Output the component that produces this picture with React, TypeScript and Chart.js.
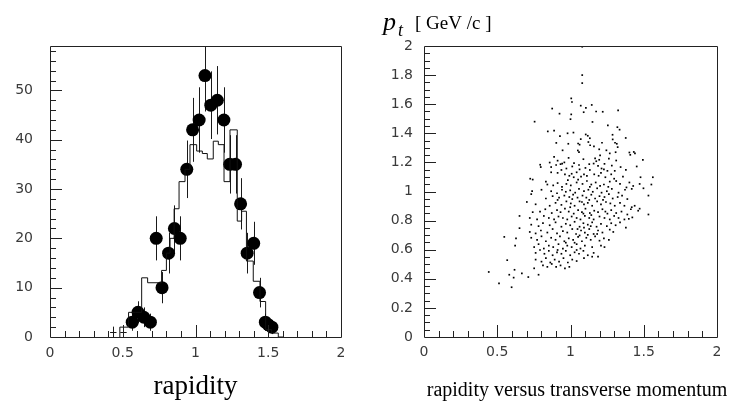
import React, { useEffect, useRef } from 'react';
import { Chart, registerables } from 'chart.js';

Chart.register(...registerables);

// ---------- left panel: rapidity histogram ----------
const pointX = [0.565, 0.605, 0.645, 0.69, 0.73, 0.77, 0.815, 0.855, 0.895, 0.94, 0.98, 1.025, 1.065, 1.105, 1.15, 1.195, 1.235, 1.275, 1.31, 1.355, 1.4, 1.44, 1.48, 1.5, 1.525];
const pointY = [3, 5, 4, 3, 20, 10, 17, 22, 20, 34, 42, 44, 53, 47, 48, 44, 35, 35, 27, 17, 19, 9, 3, 2.5, 2];
const pointErr = [1.73, 2.24, 2, 1.73, 4.47, 3.16, 4.12, 4.69, 4.47, 5.83, 6.48, 6.63, 7.28, 6.86, 6.93, 6.63, 5.92, 5.92, 5.2, 4.12, 4.36, 3, 1.73, 1.58, 1.41];

const crossX = [0.435, 0.505];
const crossY = [1, 1];
const crossErr = [1.1, 1.1];
const crossHalfWidth = [0.022, 0.022];

const histEdges = [0.48, 0.54, 0.59, 0.63, 0.671, 0.767, 0.8, 0.825, 0.853, 0.887, 0.928, 0.962, 1.008, 1.047, 1.081, 1.122, 1.157, 1.196, 1.237, 1.287, 1.317, 1.35, 1.397, 1.443, 1.482, 1.523, 1.569, 1.604];
const histValues = [1, 2, 5, 5, 12, 11, 13.5, 17, 20, 26, 31.5, 34, 39, 37.7, 37.2, 36.1, 39.7, 39, 31.5, 42, 23.5, 25.5, 15.4, 11.3, 7.2, 1.5, 0.8];

const leftXTicks = [0, 0.5, 1, 1.5, 2];
const leftYTicks = [0, 10, 20, 30, 40, 50];

// ---------- right panel: rapidity vs pt ----------
const rightXTicks = [0, 0.5, 1, 1.5, 2];
const rightYTicks = [0, 0.2, 0.4, 0.6, 0.8, 1, 1.2, 1.4, 1.6, 1.8, 2];
const rightTitle = 'rapidity versus transverse momentum';

const scatterPoints: [number, number][] = [
  [1.08,1.995],[1.08,1.80],[1.08,1.745],[1.005,1.64],[1.01,1.615],[0.875,1.57],[1.07,1.59],[1.105,1.575],[1.145,1.595],[1.175,1.55],[1.22,1.548],[1.325,1.558],[0.925,1.535],[1.005,1.53],[1.09,1.545],[1.0,1.497],[1.15,1.478],[0.755,1.48],[1.255,1.455],[1.32,1.442],[1.335,1.425],[0.845,1.413],[0.888,1.418],[1.02,1.405],[0.928,1.381],[1.104,1.392],[1.118,1.383],[1.287,1.39],[1.132,1.366],[1.377,1.368],[0.903,1.334],[0.985,1.328],[1.052,1.33],[1.062,1.322],[1.122,1.34],[1.134,1.318],[1.288,1.358],[1.304,1.335],[1.316,1.328],[1.322,1.305],[0.946,1.283],[1.05,1.282],[1.058,1.27],[1.202,1.248],[1.245,1.283],[1.268,1.262],[1.308,1.27],[1.402,1.268],[1.432,1.272],[1.408,1.252],[1.44,1.262],[1.196,1.29],[1.16,1.31],[1.215,1.335],[1.07,1.36],[0.98,1.40],
  [0.888,1.238],[0.987,1.231],[1.088,1.222],[1.168,1.228],[1.176,1.208],[1.196,1.218],[1.262,1.226],[1.312,1.213],[1.494,1.218],[0.858,1.199],[0.912,1.212],[0.932,1.188],[0.958,1.2],[0.793,1.184],[0.797,1.168],[0.868,1.168],[0.902,1.182],[0.943,1.192],[0.972,1.158],[1.012,1.172],[1.058,1.182],[1.128,1.188],[1.188,1.176],[1.212,1.158],[1.232,1.19],[1.282,1.178],[1.342,1.168],[1.378,1.148],[1.452,1.172],[1.132,1.148],[1.208,1.128],[1.252,1.142],[1.278,1.118],[1.092,1.118],[1.042,1.132],[0.992,1.108],[0.938,1.148],[0.912,1.128],[0.725,1.088],[0.742,1.082],[0.832,1.068],[1.478,1.098],[1.562,1.098],[1.102,1.162],[1.158,1.192],[1.228,1.152],[1.302,1.142],[1.062,1.152],[1.024,1.195],[0.868,1.132],
  [0.962,1.118],[1.008,1.122],[1.022,1.098],[1.072,1.102],[1.112,1.108],[1.162,1.118],[1.192,1.108],[1.238,1.098],[1.298,1.088],[1.358,1.102],[1.402,1.062],[1.472,1.052],[1.552,1.048],[1.428,1.038],[1.382,1.028],[1.338,1.052],[1.312,1.072],[1.268,1.068],[1.228,1.048],[1.202,1.038],[1.172,1.062],[1.142,1.048],[1.112,1.072],[1.082,1.052],[1.042,1.062],[1.002,1.042],[0.972,1.052],[0.942,1.032],[0.912,1.058],[0.882,1.042],[0.842,1.048],[0.802,1.012],[0.738,1.002],[0.732,0.982],[0.868,1.002],[0.908,0.988],[0.942,1.012],[0.968,0.998],[0.998,1.008],[1.032,0.992],[1.058,1.018],[1.092,1.002],[1.122,1.012],[1.152,0.998],[1.182,1.022],[1.212,0.992],[1.248,1.002],[1.282,1.018],[1.328,0.992],[1.372,1.012],[1.418,1.018],[1.498,1.022],[1.258,1.032],[1.132,1.032],[1.052,1.082],[0.982,1.078],
  [0.832,0.952],[0.878,0.968],[0.922,0.958],[0.958,0.972],[0.992,0.962],[1.018,0.978],[1.048,0.958],[1.082,0.972],[1.108,0.958],[1.142,0.978],[1.168,0.952],[1.198,0.968],[1.232,0.962],[1.262,0.982],[1.288,0.952],[1.322,0.962],[1.352,0.972],[1.388,0.948],[1.532,0.972],[0.702,0.928],[0.762,0.912],[0.858,0.902],[0.898,0.922],[0.938,0.908],[0.972,0.932],[1.002,0.918],[1.028,0.902],[1.062,0.932],[1.092,0.912],[1.118,0.922],[1.148,0.902],[1.182,0.932],[1.208,0.912],[1.242,0.928],[1.272,0.918],[1.302,0.902],[1.338,0.922],[1.368,0.902],[1.418,0.892],[1.438,0.902],[1.472,0.882],[1.462,0.868],[1.412,0.878],[1.012,0.948],[1.128,0.942],[1.222,0.942],[0.912,0.942],[1.078,0.928],
  [0.742,0.858],[0.792,0.862],[0.828,0.878],[0.872,0.852],[0.908,0.872],[0.932,0.858],[0.962,0.882],[0.988,0.862],[1.022,0.848],[1.052,0.872],[1.078,0.858],[1.102,0.882],[1.132,0.852],[1.162,0.868],[1.188,0.858],[1.218,0.878],[1.252,0.848],[1.278,0.872],[1.312,0.852],[1.348,0.862],[1.388,0.842],[1.532,0.842],[0.652,0.832],[0.722,0.818],[0.772,0.808],[0.818,0.832],[0.852,0.818],[0.888,0.808],[0.918,0.828],[0.948,0.818],[0.978,0.808],[1.008,0.828],[1.042,0.818],[1.068,0.808],[1.098,0.832],[1.128,0.818],[1.158,0.808],[1.198,0.828],[1.232,0.818],[1.268,0.808],[1.298,0.832],[1.328,0.818],[1.368,0.808],[1.398,0.812],[1.422,0.822],[1.088,0.848],[1.142,0.838],[1.238,0.862],[0.998,0.892],
  [0.732,0.772],[0.782,0.762],[0.812,0.782],[0.858,0.768],[0.898,0.788],[0.938,0.758],[0.968,0.778],[0.998,0.768],[1.028,0.792],[1.062,0.758],[1.088,0.782],[1.118,0.772],[1.148,0.788],[1.178,0.758],[1.208,0.778],[1.248,0.762],[1.278,0.782],[1.308,0.768],[1.338,0.788],[1.378,0.752],[0.652,0.748],[0.722,0.722],[0.762,0.712],[0.798,0.732],[0.842,0.718],[0.878,0.742],[0.908,0.712],[0.948,0.728],[0.978,0.718],[1.012,0.742],[1.038,0.708],[1.072,0.732],[1.098,0.718],[1.128,0.742],[1.158,0.708],[1.188,0.732],[1.218,0.718],[1.268,0.738],[1.292,0.722],[1.062,0.698],[1.118,0.702],[1.182,0.708],[1.048,0.742],[1.092,0.752],[1.138,0.762],
  [0.548,0.688],[0.628,0.678],[0.732,0.682],[0.772,0.668],[0.802,0.692],[0.832,0.658],[0.868,0.682],[0.898,0.668],[0.928,0.692],[0.958,0.658],[0.988,0.678],[1.018,0.668],[1.052,0.688],[1.078,0.658],[1.108,0.682],[1.138,0.668],[1.168,0.692],[1.198,0.662],[1.228,0.678],[1.262,0.668],[0.622,0.628],[0.752,0.618],[0.782,0.638],[0.818,0.608],[0.852,0.628],[0.882,0.618],[0.918,0.638],[0.948,0.608],[0.978,0.628],[1.008,0.618],[1.042,0.638],[1.068,0.608],[1.098,0.628],[1.148,0.618],[1.208,0.628],[1.232,0.618],[1.028,0.648],[0.968,0.648],
  [0.762,0.578],[0.792,0.598],[0.822,0.572],[0.852,0.592],[0.878,0.562],[0.908,0.582],[0.938,0.572],[0.968,0.592],[0.998,0.562],[1.028,0.582],[1.058,0.572],[1.088,0.592],[1.118,0.562],[1.158,0.578],[1.188,0.552],[0.568,0.528],[0.762,0.532],[0.802,0.518],[0.832,0.542],[0.862,0.512],[0.892,0.532],[0.922,0.518],[0.952,0.542],[0.982,0.512],[1.012,0.532],[1.042,0.522],[1.092,0.542],[1.148,0.552],[0.912,0.598],[1.042,0.598],
  [0.812,0.492],[0.842,0.482],[0.872,0.502],[0.902,0.482],[0.932,0.492],[0.962,0.472],[0.992,0.482],[0.752,0.472],[0.442,0.447],[0.618,0.462],[0.668,0.437],[0.582,0.428],[0.612,0.408],[0.712,0.412],[0.782,0.428],[0.512,0.368],[0.598,0.342],
];

const tickFont = { family: '"DejaVu Sans", sans-serif', size: 14 };
const tickColor = '#3a3a3a';

function makeFramePlugin(xMinor: number, xMajor: number, yMinor: number, yMajor: number) {
  return {
    id: 'frameTicks',
    afterDatasetsDraw(chart: any) {
      const { ctx, chartArea: a, scales } = chart;
      const xs = scales.x, ys = scales.y;
      ctx.save();
      ctx.strokeStyle = '#222';
      ctx.lineWidth = 1;
      ctx.beginPath();
      ctx.rect(Math.round(a.left) + 0.5, Math.round(a.top) + 0.5, Math.round(a.right - a.left), Math.round(a.bottom - a.top));
      ctx.stroke();
      const isMajor = (v: number, m: number) => Math.abs(v / m - Math.round(v / m)) < 1e-6;
      ctx.beginPath();
      const nx = Math.round((xs.max - xs.min) / xMinor);
      for (let i = 1; i < nx; i++) {
        const v = xs.min + i * xMinor;
        const px = Math.round(xs.getPixelForValue(v)) + 0.5;
        const len = isMajor(v, xMajor) ? 12 : 6;
        ctx.moveTo(px, a.bottom);
        ctx.lineTo(px, a.bottom - len);
      }
      const ny = Math.floor((ys.max - ys.min) / yMinor + 1e-6);
      for (let i = 1; i <= ny; i++) {
        const v = ys.min + i * yMinor;
        if (v >= ys.max - 1e-9) continue;
        const py = Math.round(ys.getPixelForValue(v)) + 0.5;
        const len = isMajor(v, yMajor) ? 12 : 6;
        ctx.moveTo(a.left, py);
        ctx.lineTo(a.left + len, py);
      }
      ctx.stroke();
      ctx.restore();
    },
  };
}

const errorBarPlugin = {
  id: 'errorBars',
  beforeDatasetsDraw(chart: any) {
    const { ctx, chartArea: a, scales } = chart;
    const xs = scales.x, ys = scales.y;
    ctx.save();
    ctx.beginPath();
    ctx.rect(a.left, a.top, a.right - a.left, a.bottom - a.top);
    ctx.clip();
    ctx.strokeStyle = '#1a1a1a';
    ctx.lineWidth = 1;
    ctx.beginPath();
    pointX.forEach((x, i) => {
      const px = Math.round(xs.getPixelForValue(x)) + 0.5;
      ctx.moveTo(px, ys.getPixelForValue(pointY[i] - pointErr[i]));
      ctx.lineTo(px, ys.getPixelForValue(pointY[i] + pointErr[i]));
    });
    crossX.forEach((x, i) => {
      const px = Math.round(xs.getPixelForValue(x)) + 0.5;
      const py = Math.round(ys.getPixelForValue(crossY[i])) + 0.5;
      ctx.moveTo(px, ys.getPixelForValue(crossY[i] - crossErr[i]));
      ctx.lineTo(px, ys.getPixelForValue(crossY[i] + crossErr[i]));
      ctx.moveTo(xs.getPixelForValue(x - crossHalfWidth[i]), py);
      ctx.lineTo(xs.getPixelForValue(x + crossHalfWidth[i]), py);
    });
    ctx.stroke();
    ctx.restore();
  },
};

const rightTextPlugin = {
  id: 'rightText',
  afterDraw(chart: any) {
    const { ctx } = chart;
    ctx.save();
    ctx.fillStyle = '#000';
    ctx.textBaseline = 'alphabetic';
    ctx.textAlign = 'left';
    ctx.font = 'italic 26px "Liberation Serif", serif';
    ctx.fillText('p', 16, 30);
    ctx.font = 'italic 18px "Liberation Serif", serif';
    ctx.fillText('t', 31, 35.5);
    ctx.font = '19px "Liberation Serif", serif';
    ctx.fillText('[ GeV /c ]', 48, 28.5);
    ctx.font = '20px "Liberation Serif", serif';
    ctx.textAlign = 'center';
    ctx.fillText(rightTitle, 210, 396);
    ctx.restore();
  },
};

const setTicks = (vals: number[]) => (scale: any) => {
  scale.ticks = vals.map((v) => ({ value: v }));
};

export default function App() {
  const leftRef = useRef<HTMLCanvasElement>(null);
  const rightRef = useRef<HTMLCanvasElement>(null);

  useEffect(() => {
    const histData = [{ x: histEdges[0], y: 0 }].concat(
      histEdges.map((e, i) => ({ x: e, y: i < histValues.length ? histValues[i] : 0 }))
    );
    const pts = pointX.map((x, i) => ({ x, y: pointY[i] }));

    const left = new Chart(leftRef.current as HTMLCanvasElement, {
      type: 'scatter',
      data: {
        datasets: [
          {
            data: histData,
            showLine: true,
            stepped: 'after',
            borderColor: '#111',
            borderWidth: 1,
            pointRadius: 0,
            fill: false,
          } as any,
          {
            data: pts,
            pointRadius: 6.5,
            pointHoverRadius: 6.5,
            backgroundColor: '#000',
            borderWidth: 0,
          },
        ],
      },
      options: {
        responsive: false,
        animation: false,
        events: [],
        layout: { padding: { left: 0, top: 46, right: 26, bottom: 0 } },
        plugins: { legend: { display: false }, tooltip: { enabled: false } },
        scales: {
          x: {
            type: 'linear',
            min: 0,
            max: 2,
            afterBuildTicks: setTicks(leftXTicks),
            afterFit: (s: any) => { s.height = 71; },
            grid: { display: false, drawTicks: false },
            border: { display: false },
            ticks: { padding: 8, font: tickFont, color: tickColor, maxRotation: 0, autoSkip: false, callback: (v: any) => String(v) },
            title: {
              display: true,
              text: 'rapidity',
              color: '#000',
              font: { family: '"Liberation Serif", serif', size: 27 },
              padding: { top: 0, bottom: 5 },
            },
          },
          y: {
            type: 'linear',
            min: 0,
            max: 59,
            afterBuildTicks: setTicks(leftYTicks),
            afterFit: (s: any) => { s.width = 50; },
            grid: { display: false, drawTicks: false },
            border: { display: false },
            ticks: { padding: 17, font: tickFont, color: tickColor, autoSkip: false, callback: (v: any) => String(v) },
          },
        },
      },
      plugins: [errorBarPlugin, makeFramePlugin(0.1, 0.5, 2, 10)],
    });

    const right = new Chart(rightRef.current as HTMLCanvasElement, {
      type: 'scatter',
      data: {
        datasets: [
          {
            data: scatterPoints.map(([x, y]) => ({ x, y })),
            pointStyle: 'rect',
            pointRadius: 1.2,
            pointHoverRadius: 1.2,
            backgroundColor: '#000',
            borderWidth: 0,
          },
        ],
      },
      options: {
        responsive: false,
        animation: false,
        events: [],
        layout: { padding: { left: 0, top: 46, right: 17, bottom: 0 } },
        plugins: { legend: { display: false }, tooltip: { enabled: false } },
        scales: {
          x: {
            type: 'linear',
            min: 0,
            max: 2,
            afterBuildTicks: setTicks(rightXTicks),
            afterFit: (s: any) => { s.height = 71; },
            grid: { display: false, drawTicks: false },
            border: { display: false },
            ticks: { padding: 7, font: tickFont, color: tickColor, maxRotation: 0, autoSkip: false, callback: (v: any) => String(v) },
          },
          y: {
            type: 'linear',
            min: 0,
            max: 2,
            afterBuildTicks: setTicks(rightYTicks),
            afterFit: (s: any) => { s.width = 57; },
            grid: { display: false, drawTicks: false },
            border: { display: false },
            ticks: { padding: 11, font: tickFont, color: tickColor, autoSkip: false, callback: (v: any) => String(v) },
          },
        },
      },
      plugins: [makeFramePlugin(0.1, 0.5, 0.05, 0.2), rightTextPlugin],
    });

    return () => {
      left.destroy();
      right.destroy();
    };
  }, []);

  return (
    <div style={{ position: 'absolute', left: 0, top: 0, width: 734, height: 408, background: '#fff' }}>
      <canvas ref={leftRef} width={367} height={408} style={{ position: 'absolute', left: 0, top: 0 }} />
      <canvas ref={rightRef} width={367} height={408} style={{ position: 'absolute', left: 367, top: 0 }} />
    </div>
  );
}
